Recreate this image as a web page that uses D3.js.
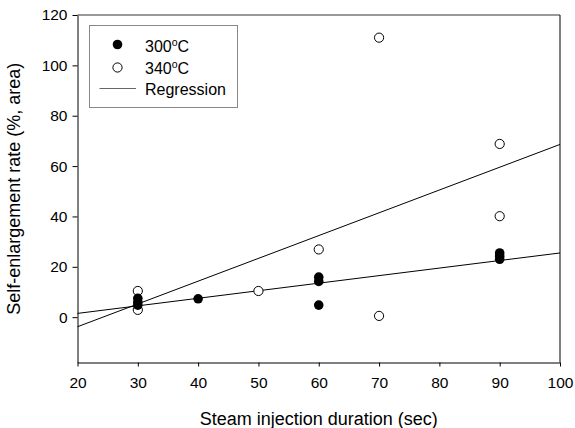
<!DOCTYPE html>
<html>
<head>
<meta charset="utf-8">
<script src="https://cdn.jsdelivr.net/npm/d3@7"></script>
<style>
  body { margin: 0; background: #fff; }
  text { font-family: "Liberation Sans", Arial, sans-serif; fill: #000; }
</style>
</head>
<body>
<div id="vis"></div>
<script>
// data
var x300 = [30, 30, 30, 40, 60, 60, 60, 90, 90, 90];
var y300 = [7.5, 6, 4.8, 7.3, 15.9, 14.2, 4.8, 25.5, 24.2, 23];
var x340 = [30, 30, 50, 60, 70, 70, 90, 90];
var y340 = [10.4, 2.9, 10.4, 26.9, 0.5, 111, 40.1, 68.8];

// regression lines: [intercept, slope]
var fit300 = [-4.5, 0.3];
var fit340 = [-21.9, 0.905];

var xTicks = [20, 30, 40, 50, 60, 70, 80, 90, 100];
var yTicks = [0, 20, 40, 60, 80, 100, 120];
var legendLabels = ["300", "340", "Regression"];

var width = 575, height = 428;
var margin = {top: 15, left: 77.5, bottom: 65.5, right: 15};

var svg = d3.select("#vis").append("svg")
  .attr("width", width)
  .attr("height", height);

var x = d3.scaleLinear().domain([20, 100]).range([margin.left, width - margin.right]);
var y = d3.scaleLinear().domain([-18, 120]).range([height - margin.bottom, margin.top]);

// frame
svg.append("line")
  .attr("x1", x(20)).attr("x2", x(100))
  .attr("y1", y(120)).attr("y2", y(120))
  .attr("stroke", "#777").attr("stroke-width", 1.3);
svg.append("line")
  .attr("x1", x(100)).attr("x2", x(100))
  .attr("y1", y(120)).attr("y2", y(-18))
  .attr("stroke", "#000").attr("stroke-width", 1);

// axes
var xAxis = svg.append("g")
  .attr("transform", "translate(0," + y(-18) + ")")
  .call(d3.axisBottom(x).tickValues(xTicks).tickSize(4).tickPadding(10).tickSizeOuter(0));
var yAxis = svg.append("g")
  .attr("transform", "translate(" + x(20) + ",0)")
  .call(d3.axisLeft(y).tickValues(yTicks).tickSize(5).tickPadding(5).tickSizeOuter(0));

svg.selectAll(".domain").attr("stroke", "#000");
svg.selectAll(".tick line").attr("stroke", "#000");
svg.selectAll(".tick text")
  .attr("font-size", "15.5px")
  .attr("font-family", "Liberation Sans, Arial, sans-serif")
  .attr("fill", "#000");

// axis titles
svg.append("text")
  .attr("x", (x(20) + x(100)) / 2)
  .attr("y", 424.5)
  .attr("text-anchor", "middle")
  .attr("font-size", "18px")
  .text("Steam injection duration (sec)");

svg.append("text")
  .attr("transform", "translate(20," + y(51) + ") rotate(-90)")
  .attr("text-anchor", "middle")
  .attr("font-size", "18px")
  .text("Self-enlargement rate (%, area)");

// regression lines
var fits = [fit300, fit340];
svg.selectAll(".fit").data(fits).enter().append("line")
  .attr("class", "fit")
  .attr("x1", x(20))
  .attr("y1", function(d) { return y(d[0] + d[1] * 20); })
  .attr("x2", x(100))
  .attr("y2", function(d) { return y(d[0] + d[1] * 100); })
  .attr("stroke", "#000")
  .attr("stroke-width", 1);

// points
svg.selectAll(".p340").data(x340).enter().append("circle")
  .attr("class", "p340")
  .attr("cx", function(d) { return x(d); })
  .attr("cy", function(d, i) { return y(y340[i]); })
  .attr("r", 4.6)
  .attr("fill", "#fff")
  .attr("stroke", "#000")
  .attr("stroke-width", 1);

svg.selectAll(".p300").data(x300).enter().append("circle")
  .attr("class", "p300")
  .attr("cx", function(d) { return x(d); })
  .attr("cy", function(d, i) { return y(y300[i]); })
  .attr("r", 4.8)
  .attr("fill", "#000");

// legend
var lg = svg.append("g");
lg.append("rect")
  .attr("x", 89.5).attr("y", 25.5)
  .attr("width", 148).attr("height", 82)
  .attr("fill", "#fff")
  .attr("stroke", "#888")
  .attr("stroke-width", 1);

lg.append("circle").attr("cx", 117.5).attr("cy", 44.5).attr("r", 4.8).attr("fill", "#000");
lg.append("circle").attr("cx", 117.5).attr("cy", 67.5).attr("r", 4.6)
  .attr("fill", "#fff").attr("stroke", "#000");
lg.append("line").attr("x1", 99.5).attr("x2", 136).attr("y1", 88.5).attr("y2", 88.5)
  .attr("stroke", "#666").attr("stroke-width", 1.2);

[0, 1].forEach(function(i) {
  var t = lg.append("text")
    .attr("x", 145)
    .attr("y", 52 + i * 22)
    .attr("font-size", "16px");
  t.append("tspan").text(legendLabels[i]);
  t.append("tspan").attr("dy", -6.5).attr("font-size", "10.5px").text("o");
  t.append("tspan").attr("dy", 6.5).text("C");
});
lg.append("text")
  .attr("x", 145)
  .attr("y", 94.5)
  .attr("font-size", "16px")
  .text(legendLabels[2]);
</script>
</body>
</html>
